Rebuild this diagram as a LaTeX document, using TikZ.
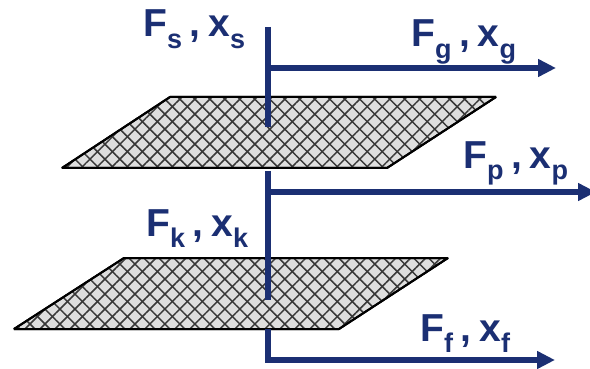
\documentclass[tikz,border=0pt]{standalone}
\usepackage{fontspec}
\setmainfont{Liberation Sans}
\usetikzlibrary{positioning, arrows.meta, patterns.meta}
\definecolor{streamblue}{HTML}{1B2F73}
\newcommand{\flowlabel}[1]{F\raisebox{-0.3em}{\fontsize{27}{27}\selectfont #1}\hspace{0.2em},\hspace{0.2em}x\raisebox{-0.3em}{\fontsize{27}{27}\selectfont #1}}

\begin{document}
\begin{tikzpicture}[
    x=1pt, y=-1pt,
    plate/.style={draw=black, line width=2pt, line join=bevel, fill=plategray},
    hatchup/.style={pattern={Lines[angle=45, distance=10.6pt, line width=1.5pt]}, pattern color=black!78},
    hatchdown/.style={pattern={Lines[angle=-45, distance=10.6pt, line width=1.5pt]}, pattern color=black!78},
    stream/.style={draw=streamblue, line width=5.6pt},
    outflow/.style={stream, -{Triangle[length=18pt, width=17pt]}},
    label/.style={anchor=base west, inner sep=0pt, text=streamblue, font=\fontsize{39}{39}\selectfont\bfseries},
]
  \colorlet{plategray}{black!13}
  \useasboundingbox (0,0) rectangle (590,369);

  % upper tray
  \foreach \hatch in {plate, hatchup, hatchdown}
    \path[\hatch] (170,97) -- (496,97) -- (387,168) -- (62,168) -- cycle;
  \draw[plate, fill=none] (170,97) -- (496,97) -- (387,168) -- (62,168) -- cycle;

  % lower tray
  \foreach \hatch in {plate, hatchup, hatchdown}
    \path[\hatch] (124,258) -- (448,258) -- (339,329) -- (14,329) -- cycle;
  \draw[plate, fill=none] (124,258) -- (448,258) -- (339,329) -- (14,329) -- cycle;

  \coordinate (feedtop) at (268,27);
  \coordinate (feedend) at (268,127);
  \coordinate (gasjoin) at (266,68);
  \coordinate (gasend) at (556,68);
  \coordinate (midtop) at (268,171);
  \coordinate (midend) at (268,300);
  \coordinate (prodjoin) at (266,192);
  \coordinate (prodend) at (596,192);
  \coordinate (lowtop) at (268,329);
  \coordinate (lowjoin) at (268,360);
  \coordinate (lowend) at (555,360);

  \draw[stream] (feedtop) -- (feedend);
  \draw[outflow] (gasjoin) -- (gasend);
  \draw[stream] (midtop) -- (midend);
  \draw[outflow] (prodjoin) -- (prodend);
  \draw[outflow] (lowtop) -- (lowjoin) -- (lowend);

  \node[label] (sout) at (143,37) {\flowlabel{s}};
  \node[label] (gout) at (411,47) {\flowlabel{g}};
  \node[label] (pout) at (463,168) {\flowlabel{p}};
  \node[label] (kout) at (146,236) {\flowlabel{k}};
  \node[label] (fout) at (420,341) {\flowlabel{f}};
\end{tikzpicture}
\end{document}
